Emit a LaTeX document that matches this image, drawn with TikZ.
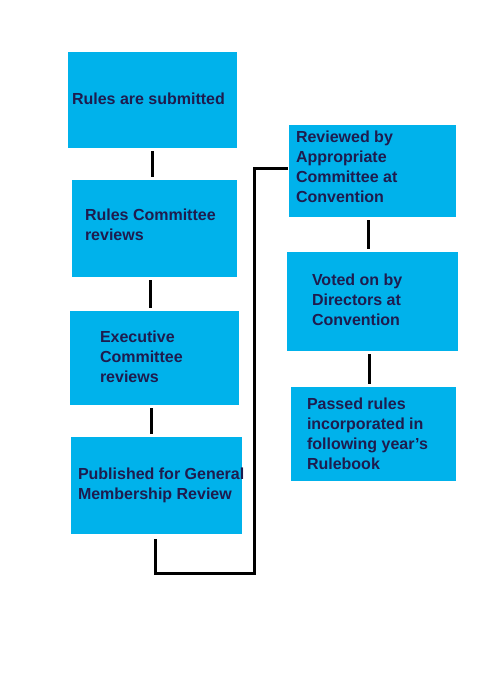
\documentclass[tikz,border=0pt]{standalone}
\usepackage{fontspec}
\setmainfont{Liberation Sans}
\definecolor{boxblue}{RGB}{0,178,235}
\definecolor{textnavy}{RGB}{30,28,78}

\tikzset{
  stage/.style={fill=boxblue, draw=none, inner sep=0pt},
  txt/.style={anchor=west, inner sep=0pt, align=left, text=textnavy,
    font=\fontsize{16}{20}\selectfont\bfseries},
  link/.style={draw=black, line width=3pt, shorten <=3pt, shorten >=3pt}
}

\begin{document}
\begin{tikzpicture}[x=1pt,y=-1pt]
\useasboundingbox (0,0) rectangle (500,700);

% left column
\node[stage, minimum width=169pt, minimum height=96pt] (submit) at (152.5,100) {};
\node[stage, minimum width=165pt, minimum height=97pt] (rcreview) at (154.5,228.5) {};
\node[stage, minimum width=169pt, minimum height=94pt] (ecreview) at (154.5,358) {};
\node[stage, minimum width=171pt, minimum height=97pt] (published) at (156.5,485.5) {};

% right column
\node[stage, minimum width=167pt, minimum height=92pt] (convreview) at (372.5,171) {};
\node[stage, minimum width=171pt, minimum height=99pt] (voted) at (372.5,301.5) {};
\node[stage, minimum width=165pt, minimum height=94pt] (passed) at (373.5,434) {};

% texts
\node[txt] (submit-t) at ([xshift=4pt,yshift=1pt]submit.west) {Rules are submitted};
\node[txt] (rcreview-t) at ([xshift=13pt,yshift=3.5pt]rcreview.west) {Rules Committee\\reviews};
\node[txt] (ecreview-t) at ([xshift=30pt,yshift=1pt]ecreview.west) {Executive\\Committee\\reviews};
\node[txt] (published-t) at ([xshift=7pt]published.west) {Published for General\\Membership Review};
\node[txt] (convreview-t) at ([xshift=7pt,yshift=4.5pt]convreview.west) {Reviewed by\\Appropriate\\Committee at\\Convention};
\node[txt] (voted-t) at ([xshift=25pt,yshift=2pt]voted.west) {Voted on by\\Directors at\\Convention};
\node[txt] (passed-t) at ([xshift=16pt]passed.west) {Passed rules\\incorporated in\\following year's\\Rulebook};

% connectors
\draw[link] (submit.south) -- (submit.south |- rcreview.north);
\draw[link] ([xshift=-4pt]rcreview.south) -- ([xshift=-4pt]rcreview.south |- ecreview.north);
\draw[link] ([xshift=-3pt]ecreview.south) -- ([xshift=-3pt]ecreview.south |- published.north);

\coordinate (bend) at (254,573);
\draw[link, shorten <=5pt, shorten >=1pt] ([xshift=-1pt]published.south) |- (bend) |- ([yshift=2pt]convreview.west);

\draw[link] ([xshift=-4.5pt]convreview.south) -- ([xshift=-4.5pt]convreview.south |- voted.north);
\draw[link] ([xshift=-3.5pt]voted.south) -- ([xshift=-3.5pt]voted.south |- passed.north);
\end{tikzpicture}
\end{document}
